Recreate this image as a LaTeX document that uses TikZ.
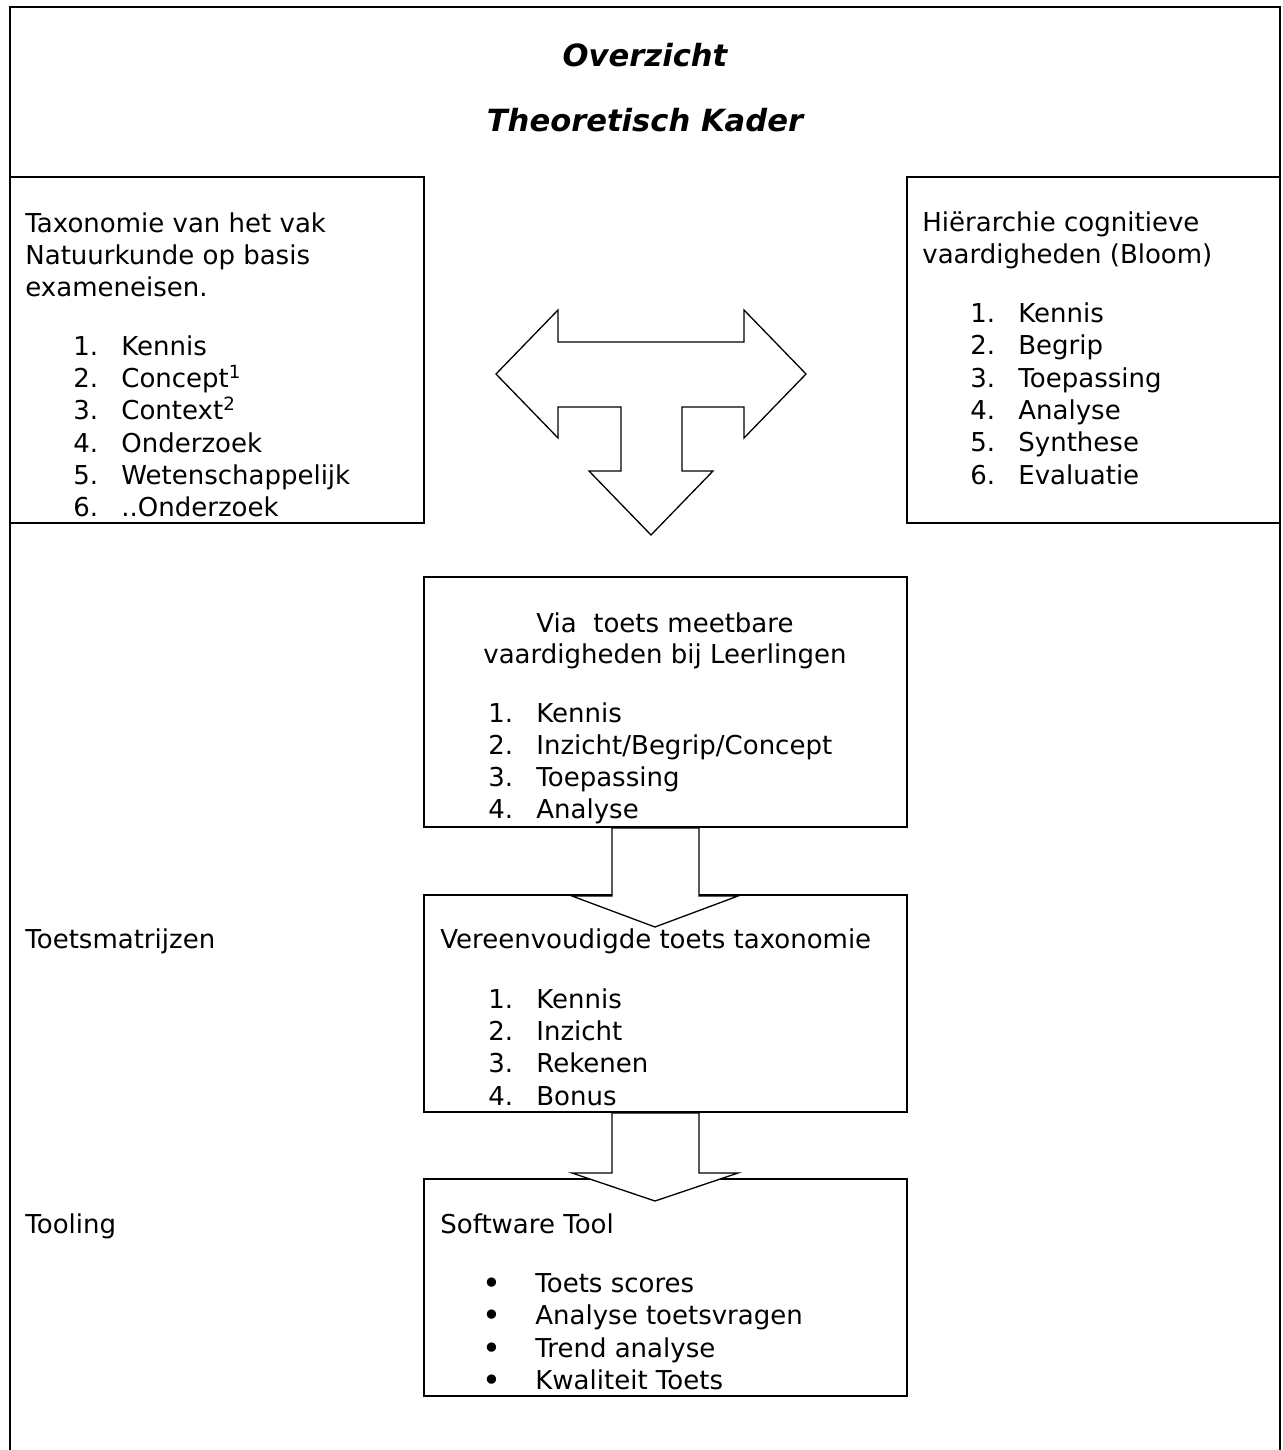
\documentclass[tikz,border=0pt]{standalone}
\usepackage{fontspec}
\setmainfont{DejaVu Sans}
\newcommand\myitem[5]{\node[txt] (#1) at (#2,#3) {\makebox[24pt][l]{#4}#5};}
\newcommand\mybullet[3]{\node[bul] (#1b) at (492,#2) {\raisebox{-1pt}{\textbullet}}; \node[txt] (#1) at (535,#2) {#3};}
\begin{document}
\begin{tikzpicture}[x=0.5pt,y=-0.5pt,
  frame/.style={line width=1.2pt},
  box/.style={draw, line width=1.2pt, rectangle, inner sep=0pt, outer sep=0pt},
  blockarrow/.style={draw, fill=white, line width=0.65pt, line join=miter},
  txt/.style={anchor=base west, inner sep=0pt, font=\fontsize{13}{16}\selectfont},
  ctxt/.style={anchor=base, inner sep=0pt, font=\fontsize{13}{16}\selectfont},
  bul/.style={anchor=base, inner sep=0pt, font=\fontsize{16}{16}\selectfont},
  ttl/.style={anchor=base, inner sep=0pt, font=\fontsize{15.3}{18}\selectfont\bfseries\itshape}]
\useasboundingbox[fill=white] (0,0) rectangle (1282,1450);

% outer frame
\draw[frame] (10,1450) -- (10,7) -- (1280,7) -- (1280,1450);

% title
\node[ttl] (t1) at (645,67) {Overzicht};
\node[ttl] (t2) at (645,132) {Theoretisch Kader};

% boxes
\node[box, minimum width=207pt, minimum height=173pt] (left) at (217,350) {};
\node[box, minimum width=186.5pt, minimum height=173pt] (right) at (1093.5,350) {};
\node[box, minimum width=241.5pt, minimum height=108.5pt] (b2) at (665.5,1003.5) {};
\node[box, minimum width=241.5pt, minimum height=108.5pt] (b3) at (665.5,1287.5) {};

% T arrow
\draw[blockarrow] (496,374) -- (558,310) -- (558,342) -- (744,342) -- (744,310) -- (806,374)
  -- (744,438) -- (744,407) -- (682,407) -- (682,471) -- (713,471) -- (651,535) -- (589,471)
  -- (621,471) -- (621,407) -- (558,407) -- (558,438) -- cycle;

% block arrows
\draw[blockarrow] (612,828) -- (612,896) -- (572,896) -- (655,927) -- (738,896) -- (699,896) -- (699,828) -- cycle;
\draw[blockarrow] (612,1113) -- (612,1173) -- (572,1173) -- (655,1201) -- (738,1173) -- (699,1173) -- (699,1113) -- cycle;

\node[box, minimum width=241.5pt, minimum height=125pt] (b1) at (665.5,702) {};
\draw[line width=1.2pt] (b2.north west) -- (572,895);
\draw[line width=1.2pt] (738,895) -- (b2.north east);

% left box text
\node[txt] (l0a) at (25,232) {Taxonomie van het vak};
\node[txt] (l0b) at (25,264) {Natuurkunde op basis};
\node[txt] (l0c) at (25,296) {exameneisen.};
\myitem{l1}{73}{355}{1.}{Kennis}
\myitem{l2}{73}{387}{2.}{Concept\textsuperscript{1}}
\myitem{l3}{73}{419}{3.}{Context\textsuperscript{2}}
\myitem{l4}{73}{452}{4.}{Onderzoek}
\myitem{l5}{73}{484}{5.}{Wetenschappelijk}
\myitem{l6}{73}{516}{6.}{..Onderzoek}

% right box text
\node[txt] (r0a) at (922,231) {Hiërarchie cognitieve};
\node[txt] (r0b) at (922,263) {vaardigheden (Bloom)};
\myitem{r1}{970}{322}{1.}{Kennis}
\myitem{r2}{970}{354}{2.}{Begrip}
\myitem{r3}{970}{387}{3.}{Toepassing}
\myitem{r4}{970}{419}{4.}{Analyse}
\myitem{r5}{970}{451}{5.}{Synthese}
\myitem{r6}{970}{484}{6.}{Evaluatie}

% box 1 text
\node[ctxt] (m0a) at (665,632) {Via\ \ toets meetbare};
\node[ctxt] (m0b) at (665,663) {vaardigheden bij Leerlingen};
\myitem{m1}{488}{722}{1.}{Kennis}
\myitem{m2}{488}{754}{2.}{Inzicht/Begrip/Concept}
\myitem{m3}{488}{786}{3.}{Toepassing}
\myitem{m4}{488}{818}{4.}{Analyse}

% box 2 text
\node[txt] (v0) at (440,948) {Vereenvoudigde toets taxonomie};
\myitem{v1}{488}{1008}{1.}{Kennis}
\myitem{v2}{488}{1040}{2.}{Inzicht}
\myitem{v3}{488}{1072}{3.}{Rekenen}
\myitem{v4}{488}{1105}{4.}{Bonus}

% box 3 text
\node[txt] (s0) at (440,1233) {Software Tool};
\mybullet{s1}{1292}{Toets scores}
\mybullet{s2}{1324}{Analyse toetsvragen}
\mybullet{s3}{1357}{Trend analyse}
\mybullet{s4}{1389}{Kwaliteit Toets}

% side labels
\node[txt] (lab1) at (25,948) {Toetsmatrijzen};
\node[txt] (lab2) at (25,1233) {Tooling};
\end{tikzpicture}
\end{document}
